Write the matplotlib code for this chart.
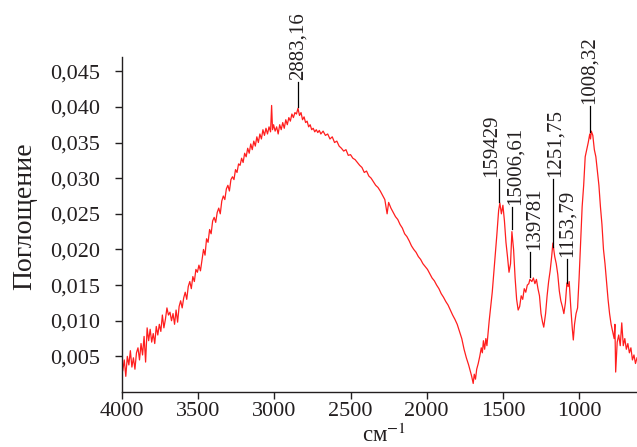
import matplotlib
matplotlib.use("Agg")
import matplotlib.pyplot as plt
from matplotlib.ticker import FuncFormatter
from matplotlib.transforms import ScaledTranslation

plt.rcParams['font.family'] = ['Liberation Serif', 'DejaVu Serif']
plt.rcParams['mathtext.fontset'] = 'stix'

# wavenumber (cm^-1) and absorbance
wavenumber = [
    3995, 3985, 3975, 3965, 3955, 3945, 3935, 3925, 3915, 3905, 3895, 3885, 3875, 3865, 3855, 3845,
    3835, 3825, 3815, 3805, 3795, 3785, 3775, 3765, 3755, 3745, 3735, 3725, 3715, 3705, 3695, 3685,
    3675, 3665, 3655, 3645, 3635, 3625, 3615, 3605, 3595, 3585, 3575, 3565, 3555, 3545, 3535, 3525,
    3515, 3505, 3495, 3485, 3475, 3465, 3455, 3445, 3435, 3425, 3415, 3405, 3395, 3385, 3375, 3365,
    3355, 3345, 3335, 3325, 3315, 3305, 3295, 3285, 3275, 3265, 3255, 3245, 3235, 3225, 3215, 3205,
    3195, 3185, 3175, 3165, 3155, 3145, 3135, 3125, 3115, 3105, 3095, 3085, 3075, 3065, 3055, 3045,
    3035, 3025, 3018, 3012, 3005, 2995, 2985, 2975, 2965, 2955, 2945, 2935, 2925, 2915, 2905, 2895,
    2885, 2875, 2865, 2855, 2845, 2835, 2825, 2815, 2805, 2795, 2785, 2775, 2765, 2755, 2745, 2735,
    2725, 2715, 2705, 2695, 2680, 2665, 2650, 2635, 2620, 2605, 2590, 2575, 2560, 2545, 2530, 2515,
    2500, 2485, 2470, 2455, 2440, 2425, 2410, 2395, 2380, 2365, 2350, 2335, 2320, 2305, 2290, 2275,
    2260, 2250, 2235, 2220, 2205, 2190, 2175, 2160, 2145, 2130, 2115, 2100, 2085, 2070, 2055, 2040,
    2025, 2010, 1995, 1980, 1965, 1950, 1935, 1920, 1905, 1890, 1875, 1860, 1845, 1830, 1815, 1800,
    1785, 1770, 1755, 1740, 1725, 1715, 1705, 1695, 1688, 1680, 1672, 1662, 1652, 1642, 1635, 1628,
    1620, 1612, 1605, 1598, 1590, 1585, 1570, 1555, 1540, 1528, 1520, 1510, 1500, 1490, 1480, 1470,
    1460, 1450, 1441, 1430, 1420, 1410, 1400, 1390, 1380, 1370, 1360, 1350, 1340, 1330, 1323, 1310,
    1300, 1290, 1280, 1270, 1260, 1250, 1240, 1232, 1220, 1210, 1200, 1190, 1180, 1172, 1160, 1150,
    1140, 1130, 1120, 1110, 1100, 1090, 1080, 1072, 1065, 1055, 1045, 1038, 1030, 1020, 1010, 1000,
    990, 980, 970, 960, 950, 940, 930, 925, 920, 910, 900, 890, 880, 870, 860, 850,
    840, 830, 820, 810, 800, 790, 780, 770, 765, 760, 750, 740, 730, 720, 710, 700,
    690, 680, 670, 660, 650, 640, 630, 620,
]
absorbance = [
    0.0030, 0.0045, 0.0022, 0.0050, 0.0038, 0.0058, 0.0035, 0.0048, 0.0032, 0.0055, 0.0062, 0.0045, 0.0068, 0.0052, 0.0078, 0.0042,
    0.0090, 0.0072, 0.0088, 0.0070, 0.0082, 0.0068, 0.0092, 0.0080, 0.0095, 0.0085, 0.0108, 0.0090, 0.0102, 0.0118, 0.0108, 0.0112,
    0.0100, 0.0110, 0.0095, 0.0115, 0.0098, 0.0120, 0.0128, 0.0118, 0.0132, 0.0140, 0.0130, 0.0148, 0.0155, 0.0145, 0.0162, 0.0155,
    0.0172, 0.0168, 0.0178, 0.0170, 0.0185, 0.0200, 0.0192, 0.0215, 0.0210, 0.0228, 0.0222, 0.0240, 0.0245, 0.0238, 0.0252, 0.0258,
    0.0250, 0.0268, 0.0275, 0.0270, 0.0285, 0.0290, 0.0282, 0.0298, 0.0302, 0.0298, 0.0312, 0.0308, 0.0320, 0.0318, 0.0328, 0.0322,
    0.0335, 0.0330, 0.0342, 0.0335, 0.0348, 0.0340, 0.0352, 0.0345, 0.0358, 0.0350, 0.0362, 0.0355, 0.0368, 0.0360, 0.0370, 0.0362,
    0.0372, 0.0365, 0.0402, 0.0368, 0.0375, 0.0366, 0.0372, 0.0362, 0.0375, 0.0368, 0.0378, 0.0370, 0.0382, 0.0375, 0.0385, 0.0380,
    0.0390, 0.0385, 0.0392, 0.0390, 0.0398, 0.0388, 0.0392, 0.0382, 0.0386, 0.0378, 0.0380, 0.0372, 0.0375, 0.0368, 0.0370, 0.0365,
    0.0368, 0.0364, 0.0367, 0.0362, 0.0366, 0.0360, 0.0362, 0.0355, 0.0358, 0.0350, 0.0352, 0.0345, 0.0342, 0.0338, 0.0340, 0.0332,
    0.0333, 0.0328, 0.0326, 0.0322, 0.0318, 0.0315, 0.0308, 0.0310, 0.0303, 0.0300, 0.0295, 0.0290, 0.0287, 0.0282, 0.0276, 0.0270,
    0.0250, 0.0266, 0.0258, 0.0252, 0.0246, 0.0242, 0.0235, 0.0230, 0.0222, 0.0218, 0.0212, 0.0205, 0.0200, 0.0196, 0.0190, 0.0186,
    0.0180, 0.0176, 0.0172, 0.0166, 0.0160, 0.0156, 0.0150, 0.0145, 0.0138, 0.0133, 0.0127, 0.0122, 0.0115, 0.0108, 0.0102, 0.0095,
    0.0085, 0.0075, 0.0060, 0.0048, 0.0038, 0.0030, 0.0022, 0.0012, 0.0025, 0.0018, 0.0032, 0.0040, 0.0050, 0.0062, 0.0055, 0.0072,
    0.0060, 0.0075, 0.0065, 0.0082, 0.0100, 0.0110, 0.0140, 0.0180, 0.0220, 0.0255, 0.0265, 0.0250, 0.0262, 0.0240, 0.0210, 0.0190,
    0.0168, 0.0180, 0.0225, 0.0200, 0.0160, 0.0130, 0.0115, 0.0120, 0.0135, 0.0130, 0.0145, 0.0140, 0.0150, 0.0152, 0.0158, 0.0155,
    0.0160, 0.0152, 0.0158, 0.0145, 0.0135, 0.0110, 0.0098, 0.0091, 0.0110, 0.0135, 0.0155, 0.0170, 0.0190, 0.0209, 0.0190, 0.0180,
    0.0165, 0.0142, 0.0128, 0.0120, 0.0110, 0.0125, 0.0153, 0.0148, 0.0155, 0.0120, 0.0090, 0.0073, 0.0095, 0.0110, 0.0118, 0.0160,
    0.0210, 0.0260, 0.0290, 0.0330, 0.0340, 0.0350, 0.0362, 0.0355, 0.0366, 0.0360, 0.0340, 0.0330, 0.0310, 0.0290, 0.0260, 0.0235,
    0.0200, 0.0180, 0.0155, 0.0130, 0.0110, 0.0095, 0.0085, 0.0075, 0.0095, 0.0028, 0.0070, 0.0080, 0.0065, 0.0097, 0.0065, 0.0075,
    0.0060, 0.0068, 0.0055, 0.0062, 0.0045, 0.0052, 0.0040, 0.0048,
]

# peak annotations: position on the curve, top of leader line, label text
peak_x = [2845, 1526, 1441, 1323, 1172, 1080, 929]
peak_y = [0.0400, 0.0266, 0.0228, 0.0162, 0.0204, 0.0153, 0.0365]
label_y = [0.0435, 0.0299, 0.0260, 0.0197, 0.0299, 0.0186, 0.0401]
peak_labels = ["2883,16", "159429", "15006,61", "139781", "1251,75", "1153,79", "1008,32"]
label_shift_px = [0, -7, 3, 5, 2, 0, -1]

x_ticks = [4000, 3500, 3000, 2500, 2000, 1500, 1000]
y_ticks = [0.005, 0.010, 0.015, 0.020, 0.025, 0.030, 0.035, 0.040, 0.045]

TXT = '#231f20'
fig = plt.figure(figsize=(6.37, 4.47), dpi=100)
ax = fig.add_axes([0.1915, 0.123, 0.8085, 0.7495])

ax.plot(wavenumber, absorbance, color='#ff1e1e', linewidth=0.9)

for x, y, yt, lab, dx in zip(peak_x, peak_y, label_y, peak_labels, label_shift_px):
    ax.plot([x, x], [y, yt], color='black', linewidth=0.9)
    tr = ax.transData + ScaledTranslation(dx / 100.0, 2 / 100.0, fig.dpi_scale_trans)
    ax.text(x, yt, lab, rotation=90, ha='center', va='bottom', transform=tr,
            fontsize=15, color=TXT, clip_on=False)

ax.set_xlim(4000, 620)
ax.set_ylim(0, 0.047)
ax.set_xticks(x_ticks)
ax.set_yticks(y_ticks)
ax.yaxis.set_major_formatter(FuncFormatter(lambda v, p: f"{v:.3f}".replace('.', ',')))
ax.tick_params(axis='both', direction='out', length=5, width=1, labelsize=16, colors=TXT)
ax.tick_params(axis='y', pad=10.5)
ax.tick_params(axis='x', pad=2)
for s in ['top', 'right']:
    ax.spines[s].set_visible(False)
for s in ['left', 'bottom']:
    ax.spines[s].set_linewidth(1.0)
    ax.spines[s].set_color(TXT)

fig.text(25 / 637, 1 - 216 / 447, "Поглощение", rotation=90, ha='center', va='center',
         fontsize=20, color=TXT)
fig.text(384 / 637, 0.0, "см$^{-1}$", ha='center', va='bottom',
         fontsize=16.5, color=TXT)

fig.savefig("out.png", dpi=100)
